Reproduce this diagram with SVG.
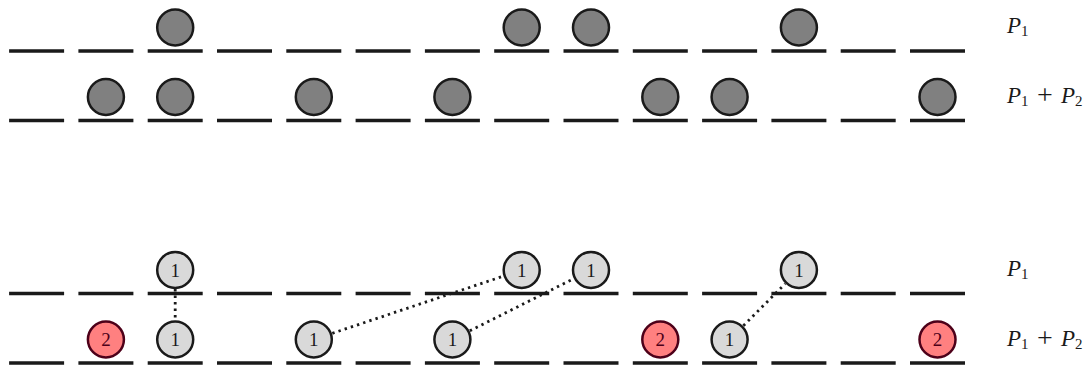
<svg xmlns="http://www.w3.org/2000/svg" width="1089" height="369" viewBox="0 0 1089 369">
<style>
.ln{stroke:#1a1a1a;stroke-width:3.5;fill:none}
.g{fill:#808080;stroke:#1a1a1a;stroke-width:2.5}
.w{fill:#d9d9d9;stroke:#1a1a1a;stroke-width:2.5}
.r{fill:#ff8080;stroke:#4d0019;stroke-width:2.5}
.dot{stroke:#1a1a1a;stroke-width:2.8;stroke-dasharray:2.4 4.1;fill:none}
</style>
<defs>
<path id="row" class="ln" d="M9.1 0h55M78.4 0h55M147.7 0h55M217 0h55M286.3 0h55M355.6 0h55M424.9 0h55M494.2 0h55M563.5 0h55M632.8 0h55M702.1 0h55M771.4 0h55M840.7 0h55M910 0h55"/>
</defs>
<g id="baselines">
<use href="#row" y="51"/>
<use href="#row" y="120.5"/>
<use href="#row" y="293.5"/>
<use href="#row" y="363"/>
</g>
<g id="connectors">
<line class="dot" x1="175.2" y1="289" x2="175.2" y2="320.5"/>
<line class="dot" x1="332.3" y1="333.3" x2="503.2" y2="276.2"/>
<line class="dot" x1="469.8" y1="330.8" x2="573.6" y2="278.7"/>
<line class="dot" x1="743.4" y1="325.7" x2="785.1" y2="283.8"/>
</g>
<g id="top-P1">
<circle class="g" cx="175.2" cy="27.5" r="18"/>
<circle class="g" cx="521.7" cy="27.5" r="18"/>
<circle class="g" cx="591" cy="27.5" r="18"/>
<circle class="g" cx="798.9" cy="27.5" r="18"/>
</g>
<g id="top-P1P2">
<circle class="g" cx="105.9" cy="97" r="18"/>
<circle class="g" cx="175.2" cy="97" r="18"/>
<circle class="g" cx="313.8" cy="97" r="18"/>
<circle class="g" cx="452.4" cy="97" r="18"/>
<circle class="g" cx="660.3" cy="97" r="18"/>
<circle class="g" cx="729.6" cy="97" r="18"/>
<circle class="g" cx="937.5" cy="97" r="18"/>
</g>
<g font-family="'Liberation Serif', 'DejaVu Serif', serif" font-size="19" text-anchor="middle">
<g id="bottom-P1" fill="#1a1a1a">
<g id="b1-2"><circle class="w" cx="175.2" cy="270" r="18"/><text x="175.2" y="276.5">1</text></g>
<g id="b1-7"><circle class="w" cx="521.7" cy="270" r="18"/><text x="521.7" y="276.5">1</text></g>
<g id="b1-8"><circle class="w" cx="591" cy="270" r="18"/><text x="591" y="276.5">1</text></g>
<g id="b1-11"><circle class="w" cx="798.9" cy="270" r="18"/><text x="798.9" y="276.5">1</text></g>
</g>
<g id="bottom-P1P2" fill="#1a1a1a">
<g id="b2-1"><circle class="r" cx="105.9" cy="339.5" r="18"/><text x="105.9" y="346" fill="#4d0019">2</text></g>
<g id="b2-2"><circle class="w" cx="175.2" cy="339.5" r="18"/><text x="175.2" y="346">1</text></g>
<g id="b2-4"><circle class="w" cx="313.8" cy="339.5" r="18"/><text x="313.8" y="346">1</text></g>
<g id="b2-6"><circle class="w" cx="452.4" cy="339.5" r="18"/><text x="452.4" y="346">1</text></g>
<g id="b2-9"><circle class="r" cx="660.3" cy="339.5" r="18"/><text x="660.3" y="346" fill="#4d0019">2</text></g>
<g id="b2-10"><circle class="w" cx="729.6" cy="339.5" r="18"/><text x="729.6" y="346">1</text></g>
<g id="b2-13"><circle class="r" cx="937.5" cy="339.5" r="18"/><text x="937.5" y="346" fill="#4d0019">2</text></g>
</g>
</g>
<g id="labels" font-family="'Liberation Serif', 'DejaVu Serif', serif" font-size="23" fill="#1a1a1a">
<text x="1007" y="33" font-style="italic">P<tspan font-style="normal" font-size="15" dy="3">1</tspan></text>
<text x="1007" y="103" font-style="italic">P<tspan font-style="normal" font-size="15" dy="3">1</tspan><tspan font-style="normal" font-size="28" x="1037" dy="-2">+</tspan><tspan x="1061" dy="-1">P</tspan><tspan font-style="normal" font-size="15" dy="3">2</tspan></text>
<text x="1007" y="276" font-style="italic">P<tspan font-style="normal" font-size="15" dy="3">1</tspan></text>
<text x="1007" y="346" font-style="italic">P<tspan font-style="normal" font-size="15" dy="3">1</tspan><tspan font-style="normal" font-size="28" x="1037" dy="-2">+</tspan><tspan x="1061" dy="-1">P</tspan><tspan font-style="normal" font-size="15" dy="3">2</tspan></text>
</g>
</svg>
